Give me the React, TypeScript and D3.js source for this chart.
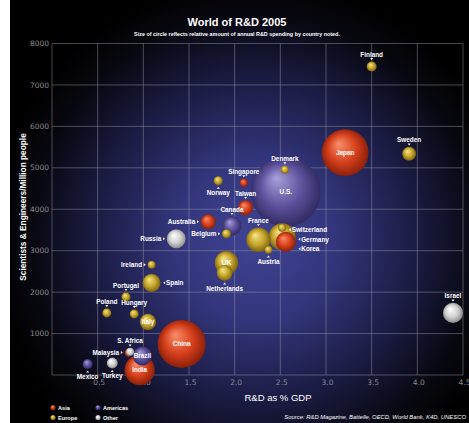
import React from 'react';
import * as d3 from 'd3';

// ---------- data ----------
const countries = ["Finland","Sweden","Japan","U.S.","Denmark","Singapore","Norway","Taiwan","Canada","Australia","Belgium","Russia","France","Germany","Korea","Switzerland","Austria","UK","Netherlands","Ireland","Spain","Portugal","Poland","Hungary","Italy","China","S. Africa","Malaysia","Brazil","India","Mexico","Turkey","Israel"];
const regions = ["Europe","Europe","Asia","Americas","Europe","Asia","Europe","Asia","Americas","Asia","Europe","Other","Europe","Europe","Asia","Europe","Europe","Europe","Europe","Europe","Europe","Europe","Europe","Europe","Europe","Asia","Other","Asia","Americas","Asia","Americas","Other","Other"];
const rdPctGdp = [3.50,3.91,3.21,2.56,2.55,2.10,1.82,2.12,1.97,1.71,1.91,1.36,2.26,2.52,2.56,2.52,2.37,1.91,1.89,1.09,1.09,0.81,0.60,0.90,1.05,1.42,0.855,0.84,0.99,0.96,0.39,0.66,4.39];
const scientistsPerMillion = [7445,5340,5366,4423,4955,4640,4689,4036,3601,3698,3408,3287,3263,3335,3215,3553,3021,2707,2465,2659,2224,1885,1499,1474,1281,749,560,540,459,121,266,290,1499];
const rdSpending = [6.7,13,148,330,4.3,4.3,5.5,15,24,15,5.5,24,40,49,27,4.3,4.3,37,17,4.3,22,5.5,5.5,5.5,18,155,4.3,4.6,24,61,6.7,8,27];
const labelPlacement = ["above","above","inside","inside","above","above","below","above","above","left","left","left","above","right","right","right","below","inside","below","left","right","above","above","above","inside","inside","above","left","inside","inside","below","below","above"];
const xTicks = [0.5,1.0,1.5,2.0,2.5,3.0,3.5,4.0,4.5];
const yTicks = [1000,2000,3000,4000,5000,6000,7000,8000];
const legendRegions = ["Asia","Americas","Europe","Other"];

// ---------- layout / style ----------
const W = 469, H = 423;
const labelNudge: Record<string, number> = { Switzerland: 2, Germany: 2.5, Korea: 7 };
const regionColors: Record<string, [string, string, string]> = {
  Asia: ["#f8906a", "#d6401c", "#7e1a06"],
  Europe: ["#f6e68a", "#c6a62c", "#6e570c"],
  Americas: ["#a9a0dc", "#5d519c", "#2a2458"],
  Other: ["#ffffff", "#d2d2d2", "#808080"],
};
const FONT = "'Liberation Sans', Arial, sans-serif";

export default function App() {
  const x = d3.scaleLinear().domain([0, 4.5]).range([52, 463]);
  const y = d3.scaleLinear().domain([0, 8000]).range([375, 43.5]);
  const r = d3.scaleSqrt().domain([0, 330]).range([0, 35]);

  const items = countries.map((name, i) => ({
    name, region: regions[i], cx: x(rdPctGdp[i]), cy: y(scientistsPerMillion[i]), rad: r(rdSpending[i]), place: labelPlacement[i],
  }));
  const drawOrder = [...items].sort((a, b) => b.rad - a.rad);

  const labels = items.map((d) => {
    const nudge = labelNudge[d.name] || 0;
    const fs = d.name === "UK" ? 7 : 6.4;
    let tx = d.cx, ty = d.cy + 2.3, anchor = "middle", tri: string | null = null;
    if (d.place === "above") {
      ty = d.cy - d.rad - 4.5;
      tri = `${d.cx - 1.5},${d.cy - d.rad - 3.4} ${d.cx + 1.5},${d.cy - d.rad - 3.4} ${d.cx},${d.cy - d.rad - 1.4}`;
    } else if (d.place === "below") {
      ty = d.cy + d.rad + 10;
      tri = `${d.cx - 1.5},${d.cy + d.rad + 3.6} ${d.cx + 1.5},${d.cy + d.rad + 3.6} ${d.cx},${d.cy + d.rad + 1.6}`;
    } else if (d.place === "left") {
      tx = d.cx - d.rad - 5.5; anchor = "end"; ty = d.cy + 2.3 + nudge;
      const c = ty - 2.3;
      tri = `${d.cx - d.rad - 3.8},${c - 1.5} ${d.cx - d.rad - 3.8},${c + 1.5} ${d.cx - d.rad - 1.8},${c}`;
    } else if (d.place === "right") {
      tx = d.cx + d.rad + 5.5; anchor = "start"; ty = d.cy + 2.3 + nudge;
      const c = ty - 2.3;
      tri = `${d.cx + d.rad + 4.6},${c - 1.5} ${d.cx + d.rad + 4.6},${c + 1.5} ${d.cx + d.rad + 2.6},${c}`;
    }
    return { ...d, tx, ty, anchor, tri, fs };
  });

  return (
    <svg width={W} height={H} style={{ display: "block", position: "absolute", left: 0, top: 0 }} fontFamily={FONT}>
      <style>{`body{margin:0}`}</style>
      <defs>
        <radialGradient id="bg" gradientUnits="userSpaceOnUse" cx={255} cy={240} r={265}>
          <stop offset="0" stopColor="#3f4392" />
          <stop offset="0.3" stopColor="#33367c" />
          <stop offset="0.6" stopColor="#1b1c44" />
          <stop offset="0.85" stopColor="#07070f" />
          <stop offset="1" stopColor="#000000" />
        </radialGradient>
        {Object.entries(regionColors).map(([k, c]) => (
          <radialGradient key={k} id={`g-${k}`} cx="0.5" cy="0.5" r="0.55" fx="0.36" fy="0.3">
            <stop offset="0" stopColor={c[0]} />
            <stop offset="0.55" stopColor={c[1]} />
            <stop offset="1" stopColor={c[2]} />
          </radialGradient>
        ))}
      </defs>
      <rect x={0} y={0} width={W} height={H} fill="#ffffff" />
      <rect x={10} y={0} width={W - 10} height={H} fill="url(#bg)" />

      {/* title */}
      <text x={237} y={26} textAnchor="middle" fill="#fff" fontWeight="bold" fontSize={11}>World of R&amp;D 2005</text>
      <text x={237} y={36} textAnchor="middle" fill="#fff" fontWeight="bold" fontSize={5.4}>Size of circle reflects relative amount of annual R&amp;D spending by country noted.</text>

      {/* grid */}
      <g stroke="#9a9aa8" strokeOpacity={0.65} strokeWidth={0.7}>
        {[0, ...xTicks].map((t) => (
          <line key={`vx${t}`} x1={x(t)} x2={x(t)} y1={y(0)} y2={y(8000)} />
        ))}
        {[0, ...yTicks].map((t) => (
          <line key={`hy${t}`} x1={x(0)} x2={x(4.5)} y1={y(t)} y2={y(t)} />
        ))}
      </g>

      {/* tick labels */}
      <g fill="#8a8a8a" fontFamily="'DejaVu Sans', sans-serif" fontSize={7.5}>
        {yTicks.map((t) => (
          <text key={`yl${t}`} x={49} y={y(t) + 2.6} textAnchor="end">{t}</text>
        ))}
        {xTicks.map((t) => (
          <text key={`xl${t}`} x={x(t) + 1.5} y={385} textAnchor="middle">{t.toFixed(1)}</text>
        ))}
      </g>

      {/* axis titles */}
      <text transform={`translate(26,${207}) rotate(-90)`} textAnchor="middle" fill="#fff" fontWeight="bold" fontSize={8.3}>Scientists &amp; Engineers/Million people</text>
      <text x={278} y={401} textAnchor="middle" fill="#fff" fontSize={9.5}>R&amp;D as % GDP</text>

      {/* bubbles */}
      {drawOrder.map((d) => (
        <circle key={d.name} cx={d.cx} cy={d.cy} r={d.rad} fill={`url(#g-${d.region})`} />
      ))}

      {/* labels */}
      <g fill="#fff" fontWeight="bold">
        {labels.map((d) => (
          <g key={`lab-${d.name}`}>
            {d.tri && <polygon points={d.tri} fill="#fff" />}
            <text x={d.tx} y={d.ty} textAnchor={d.anchor} fontSize={d.fs}>{d.name}</text>
          </g>
        ))}
      </g>

      {/* legend */}
      {legendRegions.map((reg, i) => {
        const lx = i % 2 === 0 ? 53 : 98;
        const ly = i < 2 ? 407.5 : 417.5;
        return (
          <g key={reg}>
            <circle cx={lx} cy={ly} r={2.6} fill={`url(#g-${reg})`} />
            <text x={lx + 5} y={ly + 2} fill="#fff" fontWeight="bold" fontSize={5.6}>{reg}</text>
          </g>
        );
      })}

      <text x={466} y={419} textAnchor="end" fill="#fff" fontStyle="italic" fontSize={5.9}>Source: R&amp;D Magazine, Battelle, OECD, World Bank, K4D, UNESCO</text>
    </svg>
  );
}
